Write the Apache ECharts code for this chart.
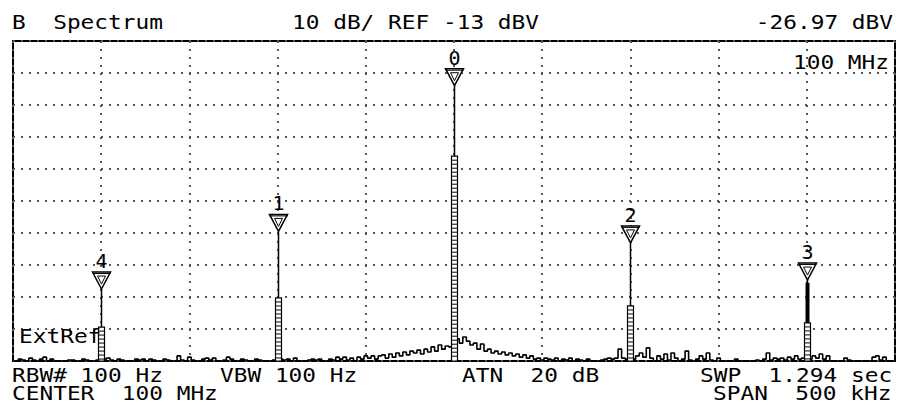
<!DOCTYPE html>
<html>
<head>
<meta charset="utf-8">
<script src="https://cdn.jsdelivr.net/npm/echarts@6/dist/echarts.min.js"></script>
<style>
  html, body { margin: 0; padding: 0; background: #fff; }
  #chart { width: 903px; height: 405px; }
</style>
</head>
<body>
<div id="chart"></div>
<script>
// Display settings of the analyzer
const refLevel = -13;        // dBV at top graticule line
const dbPerDiv = 10;
const divisions = 10;
const centerLabel = '100 MHz';
const spanKHz = 500;

// Swept trace: offsets from center in kHz (start + step * index), levels in dBV
const freqStart = -250;
const freqStep = 2;
const traceLevels = [
  -113,-113,-112.4,-112.7,-113,-112.1,-112.7,-113,-112.4,-111.8,
  -113,-112.4,-113,-113,-113,-113,-112.7,-112.7,-113,-113,
  -112.4,-112.7,-113,-113,-112.7,-112.1,-112.4,-112.1,-112.7,-113,
  -112.4,-112.7,-113,-113,-113,-112.4,-112.7,-112.4,-113,-112.4,
  -112.7,-113,-113,-112.4,-112.7,-113,-113,-111.4,-112.7,-113,
  -111.8,-112.7,-113,-113,-112.4,-112.1,-112.7,-112.1,-113,-113,
  -112.7,-111.8,-112.4,-113,-113,-112.4,-112.7,-113,-113,-112.4,
  -112.7,-113,-113,-113,-112.7,-112.1,-112.4,-112.7,-112.4,-113,
  -112.1,-113,-113,-113,-112.7,-112.4,-112.7,-112.4,-113,-113,
  -112.4,-112.7,-111.8,-112.4,-111.8,-112.7,-112.1,-113,-111.8,-112.4,
  -111.4,-112.1,-111.4,-112.4,-111.4,-111.1,-112.1,-110.8,-111.8,-110.5,
  -111.4,-110.2,-111.1,-109.9,-110.5,-109.6,-110.8,-109.3,-110.2,-108.6,
  -109.9,-108,-109.3,-108.3,-108.6,-108,-106.1,-107.4,-105.5,-106.8,
  -108,-107.4,-109.3,-107.7,-109.9,-109.3,-110.5,-109.9,-110.8,-110.2,
  -111.1,-110.5,-111.4,-110.8,-111.8,-111.1,-112.1,-111.4,-112.4,-112.1,
  -112.7,-112.1,-112.4,-112.7,-112.1,-113,-112.4,-112.7,-112.1,-113,
  -112.4,-112.7,-113,-112.4,-113,-113,-113,-112.7,-112.4,-112.1,
  -112.4,-112.1,-109.3,-112.1,-112.4,-112.1,-112.4,-111.4,-110.5,-111.8,
  -108.9,-112.1,-113,-111.4,-112.4,-110.8,-112.7,-110.5,-112.1,-113,
  -112.4,-109.9,-112.7,-113,-112.4,-111.4,-112.4,-110.5,-112.7,-113,
  -112.1,-113,-113,-113,-113,-112.4,-113,-113,-113,-113,
  -113,-112.7,-113,-112.4,-110.5,-112.7,-112.1,-112.4,-112.1,-112.7,
  -111.8,-112.4,-111.4,-112.4,-112.1,-112.1,-112.4,-111.4,-112.1,-110.8,
  -112.4,-111.4,-113,-113,-113,-113,-112.1,-112.7,-113,-113,
  -113,-113,-113,-113,-111.8,-111.4,-112.7,-111.8,-113,-113,-113
];

// Markers on the discrete tones (kHz offset, dBV)
const markerNames  = ['4', '1', '0', '2', '3'];
const markerFreqs  = [-200, -100, 0, 100, 200];
const markerLevels = [-90.5, -72.5, -26.97, -76.1, -87.7];
// Sweep-to-sweep fluctuation band of each tone (dBV): hatched below ladderTop, solid up to solidTop
const ladderTops   = [-102.4, -93.3, -49, -95.8, -101.1];
const solidTops    = [null, null, null, null, -88.6];
const activeMarker = 2;

const bottomLevel = refLevel - dbPerDiv * divisions;
const rel = v => v - refLevel;   // plotted relative to the reference line

const FONT = '20px "DejaVu Sans Mono", "Liberation Mono", monospace';
function txt(str, x, y, align) {
  return {
    type: 'text', x: x, y: y, scaleX: 1.14, z: 100,
    style: { text: str, font: FONT, fill: '#000', align: align || 'left', verticalAlign: 'middle' }
  };
}

const traceData = traceLevels.map((v, i) => [freqStart + i * freqStep, rel(v)]);
const markerData = markerFreqs.map((f, i) => [f, rel(markerLevels[i])]);

function renderMarker(params, api) {
  const i = params.dataIndex;
  const f = api.value(0);
  const base = api.coord([f, rel(bottomLevel)]);
  const tip = api.coord([f, api.value(1)]);
  const lad = api.coord([f, rel(ladderTops[i])]);
  const x = Math.round(base[0]) + 0.5;
  const children = [];
  // single-sweep line up to the tone peak
  children.push({ type: 'line', shape: { x1: x, y1: base[1], x2: x, y2: tip[1] },
                  style: { stroke: '#000', lineWidth: 1.5 } });
  if (solidTops[i] != null) {
    const s = api.coord([f, rel(solidTops[i])]);
    children.push({ type: 'rect', shape: { x: x - 2, y: s[1], width: 4, height: lad[1] - s[1] },
                    style: { fill: '#000' } });
  }
  // hatched fluctuation band
  children.push({ type: 'rect', shape: { x: x - 3, y: lad[1], width: 6, height: base[1] - lad[1] },
                  style: { fill: '#fff', stroke: '#000', lineWidth: 1.2 } });
  for (let y = lad[1] + 4; y < base[1] - 1; y += 4) {
    children.push({ type: 'line', shape: { x1: x - 3, y1: y, x2: x + 3, y2: y },
                    style: { stroke: '#000', lineWidth: 1 } });
  }
  // marker symbol: inverted triangle with its tip on the peak
  const ty = tip[1];
  children.push({ type: 'polygon', shape: { points: [[x - 9, ty - 17], [x + 9, ty - 17], [x, ty]] },
                  style: { fill: '#fff', stroke: '#000', lineWidth: 1.5 } });
  children.push({ type: 'line', shape: { x1: x - 9, y1: ty - 15.5, x2: x + 9, y2: ty - 15.5 },
                  style: { stroke: '#000', lineWidth: 1 } });
  children.push({ type: 'polygon', shape: { points: [[x - 4, ty - 13], [x + 4, ty - 13], [x, ty - 5]] },
                  style: { fill: 'none', stroke: '#000', lineWidth: 1 } });
  children.push({ type: 'text', x: x, y: ty - 28,
                  style: { text: markerNames[i], font: FONT, fill: '#000', align: 'center', verticalAlign: 'middle' } });
  return { type: 'group', children: children };
}

const chart = echarts.init(document.getElementById('chart'), null, { renderer: 'svg' });
const dotted = { color: '#555', width: 2, type: [2, 6] };

chart.setOption({
  animation: false,
  backgroundColor: '#fff',
  grid: { left: 13, right: 8, top: 41, bottom: 44, show: true, borderColor: '#000', borderWidth: 2 },
  xAxis: {
    type: 'value', min: -spanKHz / 2, max: spanKHz / 2, interval: spanKHz / divisions,
    axisLine: { show: false }, axisTick: { show: false }, axisLabel: { show: false },
    splitLine: { show: true, lineStyle: dotted }
  },
  yAxis: {
    type: 'value', min: rel(bottomLevel), max: 0, interval: dbPerDiv,
    axisLine: { show: false }, axisTick: { show: false }, axisLabel: { show: false },
    splitLine: { show: true, lineStyle: dotted }
  },
  series: [
    {
      type: 'line', data: traceData, showSymbol: false, clip: true, z: 2, step: 'middle',
      lineStyle: { color: '#000', width: 1.6 }
    },
    {
      type: 'custom', data: markerData, renderItem: renderMarker, clip: false, z: 3,
      encode: { x: 0, y: 1 }
    }
  ],
  graphic: [
    txt('B  Spectrum', 12, 22),
    txt(dbPerDiv + ' dB/ REF ' + refLevel + ' dBV', 292, 22),
    txt(markerLevels[activeMarker].toFixed(2) + ' dBV', 893, 22, 'right'),
    txt(centerLabel, 889, 62, 'right'),
    txt('ExtRef', 19, 336),
    txt('RBW# 100 Hz', 12, 375),
    txt('VBW 100 Hz', 220, 375),
    txt('ATN  20 dB', 462, 375),
    txt('SWP  1.294 sec', 700, 375),
    txt('CENTER  ' + centerLabel, 12, 393),
    txt('SPAN  ' + spanKHz + ' kHz', 713, 393)
  ]
});
</script>
</body>
</html>
